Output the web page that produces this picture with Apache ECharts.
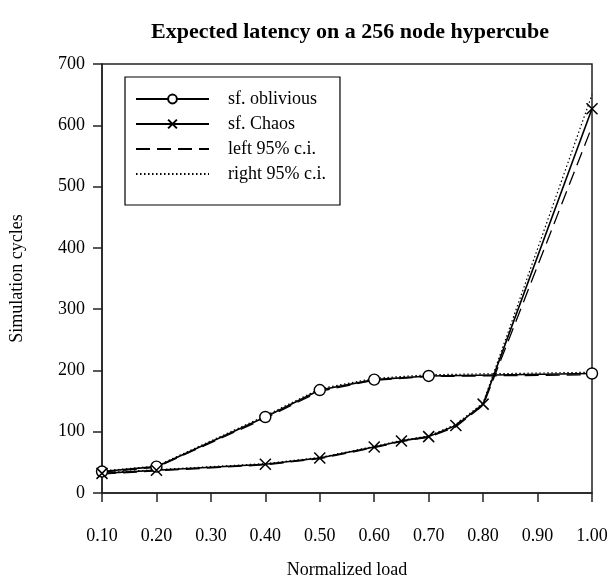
<!DOCTYPE html>
<html>
<head>
<meta charset="utf-8">
<script src="https://cdn.jsdelivr.net/npm/echarts@6/dist/echarts.min.js"></script>
<style>
  html, body { margin: 0; padding: 0; background: #fff; }
  #main { width: 611px; height: 584px; }
</style>
</head>
<body>
<div id="main"></div>
<script>
// values
const oblLoad = [0.1, 0.2, 0.4, 0.5, 0.6, 0.7, 1.0]
const oblMean = [35, 43, 124, 168, 185, 191, 195]
const oblLeft = [34, 42, 122, 166, 184, 190, 193]
const oblRight = [36, 44, 126, 170, 187, 193, 197]

const chaosLoad = [0.1, 0.2, 0.4, 0.5, 0.6, 0.65, 0.7, 0.75, 0.8, 1.0]
const chaosMean = [32, 37, 47, 57, 75, 85, 92, 110, 145, 627]
const chaosLeft = [31, 36, 46, 56, 74, 84, 91, 108, 143, 598]
const chaosRight = [33, 38, 48, 58, 76, 86, 93, 112, 147, 650]

const legendNames = ['sf. oblivious', 'sf. Chaos', 'left 95% c.i.', 'right 95% c.i.']

const font = 'Liberation Serif, Times New Roman, serif'
const zip = (xs, ys) => xs.map((x, i) => [x, ys[i]])
const crossPath = 'path://M0,0 L10,10 M10,0 L0,10'

const myChart = echarts.init(document.getElementById('main'))

const ciSeries = (name, xs, ys, type, width) => ({
  name: name,
  type: 'line',
  data: zip(xs, ys),
  symbol: 'none',
  z: 1,
  lineStyle: { color: '#000', width: width, type: type },
  itemStyle: { color: '#000' }
})

// the c.i. entries have no marker in the legend
const legendData = legendNames.map((n, i) =>
  i < 2 ? { name: n } : { name: n, itemStyle: { opacity: 0 } })

myChart.setOption({
  animation: false,
  textStyle: { fontFamily: font, color: '#000' },
  title: {
    text: 'Expected latency on a 256 node hypercube',
    left: 345,
    top: 16,
    textAlign: 'center',
    textStyle: { fontFamily: font, fontWeight: 'bold', fontSize: 22, color: '#000' }
  },
  grid: {
    left: 99, right: 19, top: 64, bottom: 86,
    show: true, borderColor: '#222', borderWidth: 1.5
  },
  legend: {
    data: legendData,
    orient: 'vertical',
    left: 125,
    top: 77,
    padding: [13, 14, 22, 10],
    itemWidth: 73,
    itemHeight: 11,
    itemGap: 7,
    borderColor: '#000',
    borderWidth: 1.2,
    backgroundColor: '#fff',
    textStyle: { fontFamily: font, fontSize: 18, color: '#000', padding: [0, 0, 0, 14] }
  },
  xAxis: {
    type: 'value',
    min: 0.1,
    max: 1.0,
    interval: 0.1,
    name: 'Normalized load',
    nameLocation: 'middle',
    nameGap: 68,
    nameTextStyle: { fontFamily: font, fontSize: 18, color: '#000' },
    axisLine: { lineStyle: { color: '#222', width: 1.5 } },
    axisTick: { length: 9, lineStyle: { color: '#222', width: 1.5 } },
    axisLabel: {
      margin: 34, fontSize: 18, fontFamily: font, color: '#000',
      formatter: v => v.toFixed(2)
    },
    splitLine: { show: false }
  },
  yAxis: {
    type: 'value',
    min: 0,
    max: 700,
    interval: 100,
    name: 'Simulation cycles',
    nameLocation: 'middle',
    nameGap: 76,
    nameTextStyle: { fontFamily: font, fontSize: 18, color: '#000' },
    axisLine: { show: true, lineStyle: { color: '#222', width: 1.5 } },
    axisTick: { show: true, length: 9, lineStyle: { color: '#222', width: 1.5 } },
    axisLabel: { margin: 17, fontSize: 18, fontFamily: font, color: '#000' },
    splitLine: { show: false }
  },
  series: [
    ciSeries('left 95% c.i.', oblLoad, oblLeft, [14, 7], 1.3),
    ciSeries('left 95% c.i.', chaosLoad, chaosLeft, [14, 7], 1.3),
    ciSeries('right 95% c.i.', oblLoad, oblRight, [1.5, 2.5], 1.2),
    ciSeries('right 95% c.i.', chaosLoad, chaosRight, [1.5, 2.5], 1.2),
    {
      name: 'sf. oblivious',
      type: 'line',
      data: zip(oblLoad, oblMean),
      symbol: 'circle',
      symbolSize: 11,
      z: 3,
      lineStyle: { color: '#000', width: 1.6 },
      itemStyle: { color: '#fff', borderColor: '#000', borderWidth: 1.4 }
    },
    {
      name: 'sf. Chaos',
      type: 'line',
      data: zip(chaosLoad, chaosMean),
      symbol: crossPath,
      symbolSize: 11,
      z: 3,
      lineStyle: { color: '#000', width: 1.6 },
      itemStyle: { color: 'transparent', borderColor: '#000', borderWidth: 1.5 }
    }
  ]
})
</script>
</body>
</html>
